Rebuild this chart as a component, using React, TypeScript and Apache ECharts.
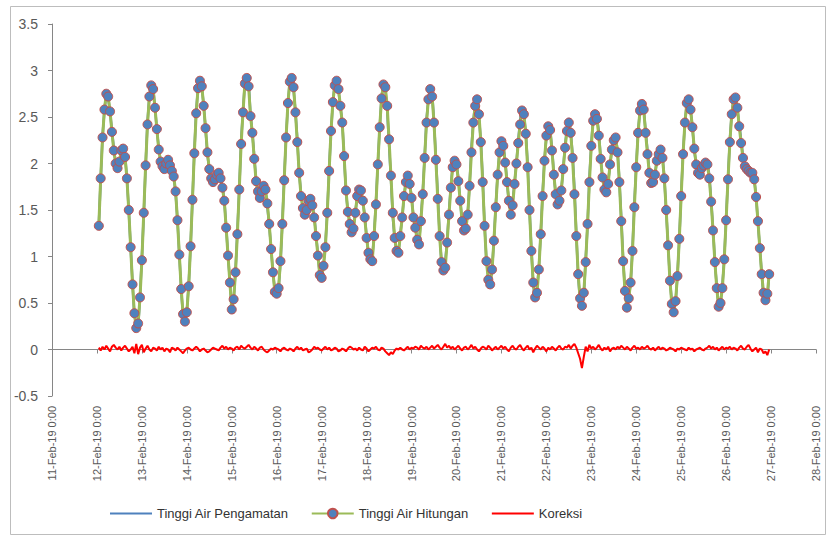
import React, { useEffect, useRef } from "react";
import * as echarts from "echarts";

// Tick labels of the date axis (one per day, from 11-Feb-19 0:00)
const tickLabels = [
  "11-Feb-19 0:00", "12-Feb-19 0:00", "13-Feb-19 0:00", "14-Feb-19 0:00",
  "15-Feb-19 0:00", "16-Feb-19 0:00", "17-Feb-19 0:00", "18-Feb-19 0:00",
  "19-Feb-19 0:00", "20-Feb-19 0:00", "21-Feb-19 0:00", "22-Feb-19 0:00",
  "23-Feb-19 0:00", "24-Feb-19 0:00", "25-Feb-19 0:00", "26-Feb-19 0:00",
  "27-Feb-19 0:00", "28-Feb-19 0:00",
];

// first reading: 12-Feb-19 1:00 (hours counted from 11-Feb-19 0:00), hourly readings
const startHour = 25;

// Tinggi Air Hitungan (m), hourly, one line per day
const hitungan = [
  1.33, 1.84, 2.28, 2.58, 2.75, 2.72, 2.56, 2.34, 2.14, 2.00, 1.95, 2.02, 2.14, 2.16, 2.07, 1.84, 1.50, 1.10, 0.70, 0.39, 0.23, 0.28, 0.56, 0.96,
  1.47, 1.98, 2.42, 2.72, 2.84, 2.80, 2.60, 2.37, 2.15, 2.02, 1.97, 1.94, 2.00, 2.04, 1.98, 1.92, 1.86, 1.70, 1.39, 1.02, 0.65, 0.38, 0.30, 0.40,
  0.68, 1.11, 1.61, 2.11, 2.54, 2.81, 2.89, 2.83, 2.62, 2.38, 2.12, 1.94, 1.84, 1.80, 1.83, 1.88, 1.90, 1.84, 1.74, 1.60, 1.31, 1.01, 0.72, 0.43,
  0.54, 0.83, 1.24, 1.72, 2.21, 2.55, 2.86, 2.92, 2.83, 2.51, 2.33, 2.05, 1.81, 1.70, 1.63, 1.70, 1.76, 1.72, 1.57, 1.35, 1.08, 0.83, 0.62, 0.60,
  0.66, 0.95, 1.35, 1.82, 2.28, 2.65, 2.88, 2.92, 2.82, 2.55, 2.23, 1.90, 1.65, 1.52, 1.45, 1.50, 1.60, 1.62, 1.55, 1.42, 1.22, 1.01, 0.80, 0.77,
  0.90, 1.10, 1.47, 1.92, 2.35, 2.66, 2.84, 2.89, 2.80, 2.62, 2.44, 2.08, 1.71, 1.48, 1.35, 1.26, 1.30, 1.47, 1.65, 1.72, 1.71, 1.60, 1.42, 1.20,
  1.04, 0.97, 0.95, 1.22, 1.56, 1.99, 2.39, 2.70, 2.85, 2.82, 2.62, 2.26, 1.87, 1.47, 1.20, 1.06, 1.04, 1.22, 1.42, 1.65, 1.80, 1.87, 1.78, 1.63,
  1.42, 1.31, 1.18, 1.13, 1.38, 1.67, 2.06, 2.44, 2.69, 2.80, 2.72, 2.44, 2.04, 1.62, 1.22, 0.94, 0.85, 0.88, 1.15, 1.45, 1.74, 1.96, 2.03, 1.99,
  1.81, 1.60, 1.38, 1.28, 1.30, 1.45, 1.76, 2.12, 2.44, 2.62, 2.69, 2.53, 2.23, 1.80, 1.33, 0.95, 0.75, 0.70, 0.86, 1.17, 1.53, 1.88, 2.12, 2.24,
  2.19, 2.01, 1.80, 1.60, 1.45, 1.55, 1.78, 2.00, 2.22, 2.42, 2.57, 2.53, 2.32, 1.96, 1.50, 1.06, 0.72, 0.56, 0.61, 0.86, 1.24, 1.65, 2.03, 2.30,
  2.40, 2.36, 2.14, 1.88, 1.67, 1.56, 1.60, 1.71, 1.94, 2.17, 2.35, 2.44, 2.33, 2.06, 1.67, 1.22, 0.81, 0.55, 0.47, 0.61, 0.94, 1.35, 1.80, 2.19,
  2.46, 2.53, 2.48, 2.30, 2.05, 1.85, 1.72, 1.69, 1.78, 1.99, 2.15, 2.25, 2.28, 2.12, 1.80, 1.38, 0.95, 0.63, 0.45, 0.55, 0.72, 1.06, 1.53, 1.96,
  2.33, 2.57, 2.64, 2.58, 2.33, 2.10, 1.90, 1.79, 1.80, 1.88, 2.03, 2.10, 2.15, 2.06, 1.84, 1.50, 1.12, 0.74, 0.49, 0.40, 0.52, 0.79, 1.19, 1.65,
  2.10, 2.44, 2.65, 2.69, 2.58, 2.39, 2.16, 1.99, 1.90, 1.88, 1.95, 1.98, 2.01, 1.99, 1.84, 1.59, 1.28, 0.94, 0.66, 0.46, 0.50, 0.66, 0.97, 1.39,
  1.83, 2.23, 2.53, 2.69, 2.71, 2.60, 2.40, 2.22, 2.06, 1.97, 1.94, 1.92, 1.90, 1.90, 1.83, 1.64, 1.38, 1.09, 0.81, 0.61, 0.53, 0.60, 0.81,
];

// Tinggi Air Pengamatan (m) – lies under the computed curve in the picture
const pengamatan = [
  1.34, 1.83, 2.30, 2.57, 2.77, 2.71, 2.55, 2.36, 2.16, 2.01, 1.95, 2.03, 2.13, 2.17, 2.09, 1.85, 1.49, 1.10, 0.72, 0.36, 0.28, 0.24, 0.57, 1.00,
  1.44, 1.98, 2.45, 2.72, 2.83, 2.81, 2.61, 2.36, 2.17, 2.02, 1.98, 1.93, 2.00, 2.04, 1.96, 1.93, 1.87, 1.69, 1.40, 1.02, 0.64, 0.35, 0.29, 0.41,
  0.70, 1.11, 1.60, 2.12, 2.56, 2.82, 2.88, 2.83, 2.63, 2.37, 2.10, 1.92, 1.84, 1.81, 1.84, 1.88, 1.89, 1.85, 1.76, 1.61, 1.33, 1.01, 0.74, 0.44,
  0.53, 0.85, 1.27, 1.72, 2.24, 2.57, 2.87, 2.95, 2.88, 2.53, 2.33, 2.08, 1.82, 1.69, 1.65, 1.73, 1.76, 1.70, 1.54, 1.34, 1.09, 0.83, 0.64, 0.61,
  0.66, 0.93, 1.36, 1.84, 2.28, 2.64, 2.89, 2.92, 2.80, 2.56, 2.26, 1.90, 1.67, 1.51, 1.45, 1.51, 1.57, 1.60, 1.55, 1.45, 1.23, 1.03, 0.80, 0.76,
  0.91, 1.13, 1.47, 1.94, 2.34, 2.66, 2.86, 2.90, 2.78, 2.61, 2.45, 2.08, 1.69, 1.49, 1.38, 1.28, 1.30, 1.48, 1.64, 1.74, 1.71, 1.59, 1.45, 1.21,
  1.02, 0.97, 0.97, 1.23, 1.59, 1.99, 2.38, 2.72, 2.86, 2.80, 2.58, 2.20, 1.84, 1.42, 1.19, 1.07, 1.04, 1.24, 1.42, 1.64, 1.81, 1.90, 1.78, 1.65,
  1.43, 1.34, 1.20, 1.13, 1.42, 1.69, 2.07, 2.47, 2.69, 2.82, 2.76, 2.45, 2.07, 1.67, 1.24, 0.94, 0.88, 0.94, 1.17, 1.49, 1.75, 1.99, 2.03, 2.01,
  1.85, 1.61, 1.37, 1.30, 1.33, 1.45, 1.78, 2.17, 2.45, 2.65, 2.69, 2.51, 2.24, 1.83, 1.35, 0.95, 0.79, 0.72, 0.85, 1.18, 1.56, 1.88, 2.14, 2.28,
  2.20, 2.04, 1.80, 1.58, 1.47, 1.59, 1.79, 2.00, 2.25, 2.47, 2.58, 2.52, 2.34, 2.00, 1.50, 1.08, 0.69, 0.57, 0.65, 0.88, 1.24, 1.68, 2.04, 2.28,
  2.42, 2.36, 2.17, 1.89, 1.66, 1.58, 1.64, 1.72, 1.94, 2.20, 2.37, 2.49, 2.34, 2.10, 1.73, 1.24, 0.79, 0.52, 0.47, 0.57, 0.97, 1.33, 1.85, 2.20,
  2.49, 2.53, 2.50, 2.35, 2.06, 1.84, 1.74, 1.69, 1.81, 1.97, 2.16, 2.27, 2.28, 2.15, 1.81, 1.42, 0.97, 0.63, 0.48, 0.56, 0.71, 1.08, 1.57, 1.97,
  2.35, 2.57, 2.67, 2.59, 2.35, 2.14, 1.91, 1.79, 1.82, 1.87, 2.04, 2.13, 2.15, 2.08, 1.85, 1.49, 1.12, 0.76, 0.50, 0.40, 0.50, 0.80, 1.19, 1.67,
  2.11, 2.44, 2.64, 2.71, 2.58, 2.40, 2.14, 1.99, 1.91, 1.90, 1.95, 1.97, 2.02, 2.01, 1.88, 1.60, 1.31, 0.94, 0.68, 0.45, 0.51, 0.69, 0.97, 1.41,
  1.84, 2.26, 2.53, 2.71, 2.72, 2.59, 2.42, 2.26, 2.07, 1.97, 1.97, 1.97, 1.91, 1.88, 1.83, 1.66, 1.35, 1.10, 0.81, 0.57, 0.51, 0.54, 0.81,
];

// Koreksi (m), hourly
const koreksi = [
  0.02, -0.01, 0.03, 0.00, 0.04, 0.01, -0.02, 0.03, 0.05, 0.02, 0.00, 0.03, -0.01, 0.02, 0.04, 0.01, -0.02, 0.00, 0.03, -0.04, 0.06, -0.05, 0.02, 0.05,
  -0.03, 0.01, 0.04, 0.00, -0.02, 0.02, 0.01, -0.01, 0.03, 0.00, 0.02, -0.02, 0.01, 0.00, -0.03, 0.02, 0.01, -0.01, 0.02, 0.00, -0.02, -0.04, -0.01, 0.01,
  0.02, 0.00, -0.01, 0.01, 0.03, 0.01, -0.02, 0.00, 0.01, -0.01, -0.03, -0.02, 0.00, 0.02, 0.01, 0.00, -0.01, 0.02, 0.04, 0.01, 0.03, 0.00, 0.02, 0.01,
  -0.01, 0.02, 0.03, 0.00, 0.04, 0.02, 0.01, 0.03, 0.05, 0.02, 0.00, 0.03, 0.01, -0.01, 0.02, 0.03, 0.00, -0.02, -0.03, -0.01, 0.01, 0.00, 0.02, 0.01,
  0.00, -0.02, 0.01, 0.02, 0.00, -0.01, 0.01, 0.00, -0.02, 0.01, 0.03, 0.00, 0.02, -0.01, 0.00, 0.01, -0.03, -0.02, 0.00, 0.03, 0.01, 0.02, 0.00, -0.01,
  0.01, 0.03, 0.00, 0.02, -0.01, 0.00, 0.02, 0.01, -0.02, -0.01, 0.01, 0.00, -0.02, 0.01, 0.03, 0.02, 0.00, 0.01, -0.01, 0.02, 0.00, -0.01, 0.03, 0.01,
  -0.02, 0.00, 0.02, 0.01, 0.03, 0.00, -0.01, 0.02, 0.01, -0.02, -0.04, -0.06, -0.03, -0.05, -0.01, 0.01, 0.00, 0.02, 0.00, -0.01, 0.01, 0.03, 0.00, 0.02,
  0.01, 0.03, 0.02, 0.00, 0.04, 0.02, 0.01, 0.03, 0.00, 0.02, 0.04, 0.01, 0.03, 0.05, 0.02, 0.00, 0.03, 0.06, 0.02, 0.04, 0.01, 0.03, 0.00, 0.02,
  0.04, 0.01, -0.01, 0.02, 0.03, 0.00, 0.02, 0.05, 0.01, 0.03, 0.00, -0.02, 0.01, 0.03, 0.02, 0.00, 0.04, 0.02, -0.01, 0.01, 0.03, 0.00, 0.02, 0.04,
  0.01, 0.03, 0.00, -0.02, 0.02, 0.04, 0.01, 0.00, 0.03, 0.05, 0.01, -0.01, 0.02, 0.04, 0.00, 0.02, -0.03, 0.01, 0.04, 0.02, 0.00, 0.03, 0.01, -0.02,
  0.02, 0.00, 0.03, 0.01, -0.01, 0.02, 0.04, 0.01, 0.00, 0.03, 0.02, 0.05, 0.01, 0.04, 0.06, 0.02, -0.04, -0.10, -0.20, -0.08, 0.03, -0.02, 0.05, 0.01,
  0.03, 0.00, 0.02, 0.05, 0.01, -0.01, 0.02, 0.00, 0.03, -0.02, 0.01, 0.02, 0.00, 0.03, 0.01, 0.04, 0.02, 0.00, 0.03, 0.01, -0.01, 0.02, 0.04, 0.01,
  0.02, 0.00, 0.03, 0.01, 0.02, 0.04, 0.01, 0.00, 0.02, -0.01, 0.01, 0.03, 0.00, 0.02, 0.01, -0.01, 0.00, 0.02, 0.01, 0.00, -0.02, 0.01, 0.00, 0.02,
  0.01, 0.00, -0.01, 0.02, 0.00, 0.01, -0.02, 0.00, 0.01, 0.02, 0.00, -0.01, 0.01, 0.02, 0.04, 0.01, 0.03, 0.00, 0.02, -0.01, 0.01, 0.03, 0.00, 0.02,
  0.01, 0.03, 0.00, 0.02, 0.01, -0.01, 0.02, 0.04, 0.01, 0.00, 0.03, 0.05, 0.01, -0.02, 0.00, 0.02, -0.03, 0.01, 0.00, -0.04, -0.02, -0.06, 0.00,
];

const seriesNames = ["Tinggi Air Pengamatan", "Tinggi Air Hitungan", "Koreksi"];

export default function App() {
  const ref = useRef<HTMLDivElement>(null);

  useEffect(() => {
    if (!ref.current) return;
    const chart = echarts.init(ref.current, null, { renderer: "svg" });
    const toPairs = (arr: number[]) => arr.map((v, i) => [startHour + i, v]);
    const font = "Liberation Sans";
    const axisGrey = "#868686";
    const clear = "rgba(0,0,0,0)";

    chart.setOption({
      animation: false,
      backgroundColor: "#ffffff",
      textStyle: { fontFamily: font },
      grid: { left: 52, right: 14, top: 24, bottom: 143, containLabel: false },
      graphic: [
        {
          type: "rect",
          shape: { x: 10.5, y: 6.5, width: 815, height: 528 },
          style: { fill: "none", stroke: "#bdbdbd", lineWidth: 1 },
          silent: true,
          z: -10,
        },
      ],
      legend: {
        left: 104,
        top: 502,
        itemWidth: 42,
        itemHeight: 12,
        itemGap: 22,
        textStyle: { fontFamily: font, fontSize: 13, color: "#333333" },
        data: [
          { name: seriesNames[0], itemStyle: { color: clear, borderWidth: 0 } },
          { name: seriesNames[1] },
          { name: seriesNames[2], itemStyle: { color: clear, borderWidth: 0 } },
        ],
      },
      xAxis: [
        {
          type: "value",
          min: 0,
          max: (tickLabels.length - 1) * 24,
          interval: 24,
          axisLine: { show: true, onZero: true, lineStyle: { color: axisGrey, width: 1 } },
          axisTick: { show: true, length: 4, lineStyle: { color: axisGrey } },
          axisLabel: { show: false },
          splitLine: { show: false },
        },
        {
          type: "value",
          position: "bottom",
          min: 0,
          max: (tickLabels.length - 1) * 24,
          interval: 24,
          axisLine: { show: false, onZero: false },
          axisTick: { show: false },
          axisLabel: {
            show: true,
            rotate: 90,
            margin: 10,
            fontSize: 11,
            fontFamily: font,
            color: "#595959",
            formatter: (v: number) => tickLabels[Math.round(v / 24)] ?? "",
          },
          splitLine: { show: false },
        },
      ],
      yAxis: {
        type: "value",
        min: -0.5,
        max: 3.5,
        interval: 0.5,
        axisLine: { show: true, onZero: false, lineStyle: { color: axisGrey, width: 1 } },
        axisTick: { show: true, length: 4, lineStyle: { color: axisGrey } },
        axisLabel: { fontSize: 14, fontFamily: font, color: "#595959", margin: 14 },
        splitLine: { show: false },
      },
      series: [
        {
          name: seriesNames[0],
          type: "line",
          xAxisIndex: 0,
          data: toPairs(pengamatan),
          symbol: "none",
          lineStyle: { color: "#4f81bd", width: 2.5 },
          itemStyle: { color: clear },
          z: 2,
        },
        {
          name: seriesNames[1],
          type: "line",
          xAxisIndex: 0,
          data: toPairs(hitungan),
          symbol: "circle",
          symbolSize: 9,
          showAllSymbol: true,
          lineStyle: { color: "#9bbb59", width: 3 },
          itemStyle: { color: "#4f81bd", borderColor: "#c0504d", borderWidth: 1 },
          z: 3,
        },
        {
          name: seriesNames[2],
          type: "line",
          xAxisIndex: 0,
          data: toPairs(koreksi),
          symbol: "none",
          lineStyle: { color: "#ff0000", width: 2 },
          itemStyle: { color: clear },
          z: 4,
        },
      ],
    });

    return () => chart.dispose();
  }, []);

  return (
    <div
      ref={ref}
      style={{ position: "absolute", left: 0, top: 0, width: 830, height: 539 }}
    />
  );
}
